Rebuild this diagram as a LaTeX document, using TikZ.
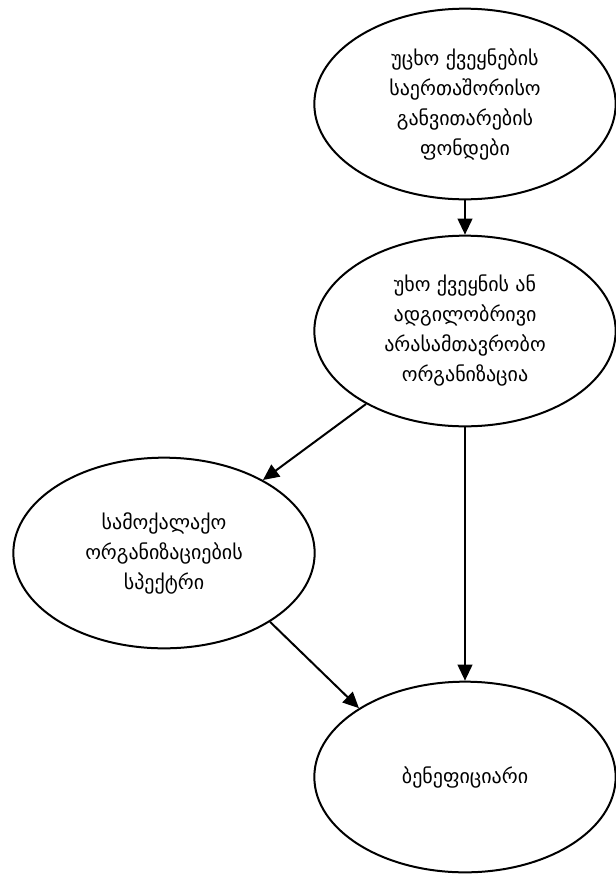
\documentclass[tikz,border=0pt]{standalone}
\usepackage{fontspec}
\setmainfont{DejaVu Sans}
\usetikzlibrary{arrows.meta,shapes.geometric}

\begin{document}
\begin{tikzpicture}[x=0.75pt,y=-0.75pt]
            \useasboundingbox (0,0) rectangle (616,875);
            \begin{scope}[every node/.style={ellipse,draw,line width=1.5pt,minimum width=226pt,minimum height=143pt,inner sep=0pt,align=center,font=\fontsize{15}{22.5}\selectfont}]
                \node (F) at (465,104) {უცხო ქვეყნების\\საერთაშორისო\\განვითარების\\ფონდები};
                \node (O) at (465,331) {უხო ქვეყნის ან\\ადგილობრივი\\არასამთავრობო\\ორგანიზაცია};
                \node (S) at (164,553) {სამოქალაქო\\ორგანიზაციების\\სპექტრი};
                \node (B) at (465,777) {ბენეფიციარი};
                
            \end{scope}
            
            \begin{scope}[>={Triangle[length=12pt,width=11pt]},
                          every edge/.style={draw=black,line width=1.5pt}]
                \path [->] (F) edge (O);
                \path [->] (O) edge (S);
                \path [->] (O) edge (B);
                \path [->] (S.-33) edge (B.147);
            
            \end{scope}
        \end{tikzpicture}
\end{document}
